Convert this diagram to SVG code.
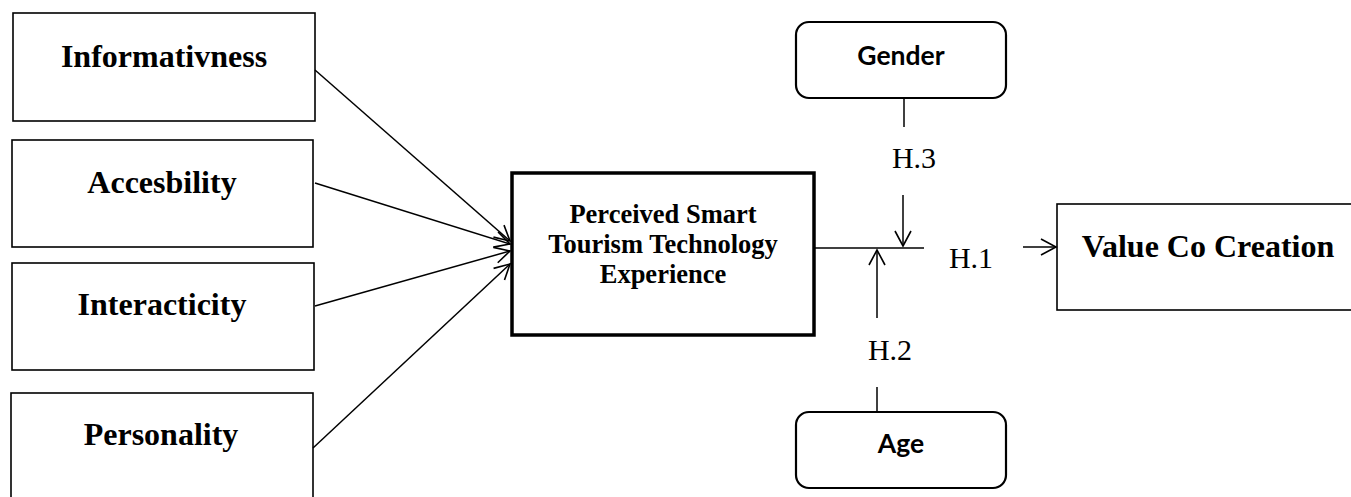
<svg xmlns="http://www.w3.org/2000/svg" width="1351" height="497" viewBox="0 0 1351 497">
<style>
.box{fill:#fff;stroke:#000;stroke-width:1.6}
.main{fill:#fff;stroke:#000;stroke-width:3.5}
.rbox{fill:#fff;stroke:#000;stroke-width:2.2}
.big{font-family:"Liberation Serif","Times New Roman",serif;font-weight:bold;font-size:32px;text-anchor:middle;fill:#000}
.mid{font-family:"Liberation Serif","Times New Roman",serif;font-weight:bold;font-size:26.5px;text-anchor:middle;fill:#000}
.h{font-family:"Liberation Serif","Times New Roman",serif;font-size:30px;text-anchor:middle;fill:#000}
.sans{font-family:Lato,"Liberation Sans",sans-serif;font-weight:bold;font-size:26.5px;text-anchor:middle;fill:#000}
.ln{stroke:#000;stroke-width:1.5;fill:none}
</style>
<defs>
<marker id="arr" viewBox="-16 -10 18 20" markerWidth="18" markerHeight="20" refX="0" refY="0" orient="auto" markerUnits="userSpaceOnUse">
<path d="M-15,-8 L0,0 L-15,8" fill="none" stroke="#000" stroke-width="1.6"/>
</marker>
</defs>
<g id="informativness"><rect class="box" x="13" y="13" width="302" height="108"/><text class="big" x="164" y="67">Informativness</text></g>
<g id="accesbility"><rect class="box" x="12" y="140" width="301" height="107"/><text class="big" x="162" y="193">Accesbility</text></g>
<g id="interacticity"><rect class="box" x="12" y="263" width="302" height="107"/><text class="big" x="162" y="315">Interacticity</text></g>
<g id="personality"><rect class="box" x="11" y="393" width="302" height="110"/><text class="big" x="161" y="445">Personality</text></g>
<g id="pstte"><rect class="main" x="512" y="173" width="302" height="162"/>
<text class="mid" x="663" y="223">Perceived Smart</text>
<text class="mid" x="663" y="253">Tourism Technology</text>
<text class="mid" x="663" y="283">Experience</text></g>
<g id="gender"><rect class="rbox" x="796" y="22" width="210" height="76" rx="13"/><text class="sans" x="901" y="65">Gender</text></g>
<g id="age"><rect class="rbox" x="796" y="412" width="210" height="76" rx="13"/><text class="sans" x="901" y="453">Age</text></g>
<g id="vcc"><rect class="box" x="1057" y="204" width="300" height="106"/><text class="big" x="1208" y="257">Value Co Creation</text></g>
<g id="connectors">
<line class="ln" x1="315" y1="70" x2="510" y2="241" marker-end="url(#arr)"/>
<line class="ln" x1="315" y1="183" x2="510" y2="244" marker-end="url(#arr)"/>
<line class="ln" x1="315" y1="306" x2="510" y2="251" marker-end="url(#arr)"/>
<line class="ln" x1="313" y1="448" x2="510" y2="264" marker-end="url(#arr)"/>
<line class="ln" x1="814" y1="248" x2="924" y2="248"/>
<line class="ln" x1="904" y1="98" x2="904" y2="127"/>
<line class="ln" x1="903" y1="195" x2="903" y2="246" marker-end="url(#arr)"/>
<line class="ln" x1="877" y1="318" x2="877" y2="250" marker-end="url(#arr)"/>
<line class="ln" x1="877" y1="387" x2="877" y2="412"/>
<line class="ln" x1="1023" y1="247" x2="1056" y2="247" marker-end="url(#arr)"/>
</g>
<g id="labels">
<text class="h" x="914" y="168">H.3</text>
<text class="h" x="971" y="268">H.1</text>
<text class="h" x="890" y="360">H.2</text>
</g>
</svg>
